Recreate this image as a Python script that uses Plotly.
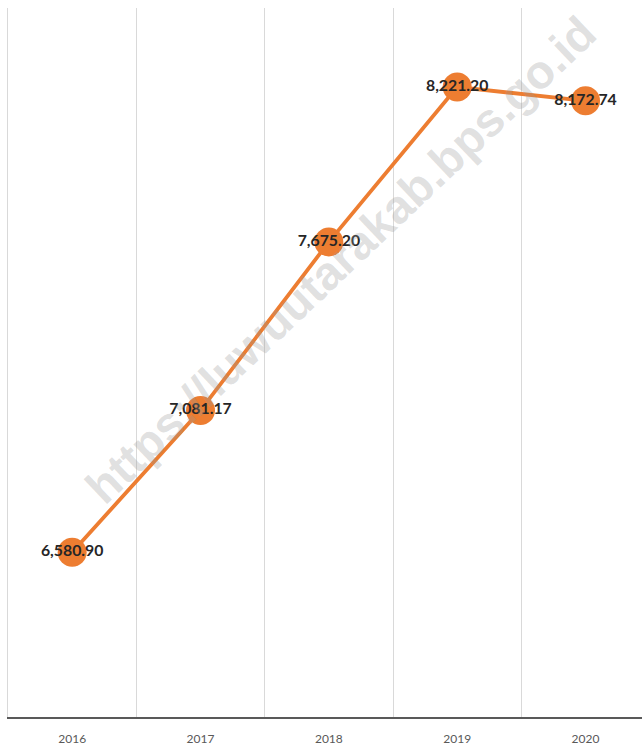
import plotly.graph_objects as go

years = ["2016", "2017", "2018", "2019", "2020"]
values = [6580.90, 7081.17, 7675.20, 8221.20, 8172.74]
labels = [f"{v:,.2f}" for v in values]

orange = "#ED7D31"

fig = go.Figure()
fig.add_trace(go.Scatter(
    x=years,
    y=values,
    mode="lines+markers+text",
    line=dict(color=orange, width=3.8),
    marker=dict(color=orange, size=29),
    text=labels,
    textposition="middle center",
    textfont=dict(family="Lato", size=15.8, color="#262626", weight="bold"),
    cliponaxis=False,
    hoverinfo="skip",
))

fig.add_annotation(
    text="<b>https://luwuutarakab.bps.go.id</b>",
    xref="paper", yref="paper",
    x=0.525, y=0.645,
    showarrow=False,
    textangle=-43.5,
    font=dict(family="Liberation Sans", size=47, color="rgba(150,150,150,0.3)"),
)

fig.update_layout(
    width=642,
    height=745,
    margin=dict(l=8, r=0, t=8, b=28),
    paper_bgcolor="white",
    plot_bgcolor="white",
    showlegend=False,
    xaxis=dict(
        type="category",
        range=[-0.5, 4.44],
        tickson="boundaries",
        showgrid=True,
        gridcolor="#d9d9d9",
        gridwidth=1,
        showline=True,
        linecolor="#595959",
        linewidth=2,
        ticks="",
        ticklabelstandoff=10,
        tickfont=dict(family="Lato", size=12, color="#595959"),
        zeroline=False,
    ),
    yaxis=dict(
        range=[6000, 8500],
        showgrid=False,
        showticklabels=False,
        showline=True,
        linecolor="#d9d9d9",
        linewidth=1,
        zeroline=False,
        ticks="",
    ),
)

fig.write_html("out.html")
